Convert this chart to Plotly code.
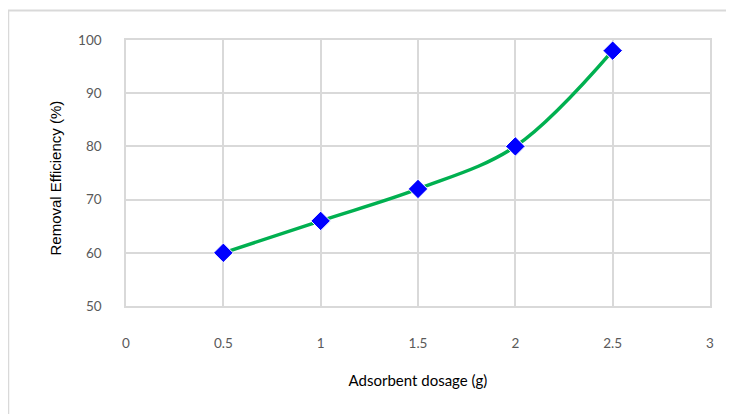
import plotly.graph_objects as go

dosage = [0.5, 1, 1.5, 2, 2.5]
efficiency = [60, 66, 72, 80, 98]
x_ticks = [0, 0.5, 1, 1.5, 2, 2.5, 3]
x_tick_labels = ["0", "0.5", "1", "1.5", "2", "2.5", "3"]
y_ticks = [50, 60, 70, 80, 90, 100]

OFF = 8  # page body margin
W, H = 734 - OFF, 414 - OFF
L, R, T, B = 126 - OFF, 24, 40 - OFF, 108
pw, ph = W - L - R, H - T - B

def px_x(p):
    return (p - OFF - L) / pw

def px_y(p):
    return (H - B - (p - OFF)) / ph

fig = go.Figure()
fig.add_trace(go.Scatter(
    x=dosage, y=efficiency, mode="lines+markers",
    line=dict(color="#00b050", width=3.5, shape="spline", smoothing=1),
    marker=dict(symbol="diamond", color="#0000ff", size=15,
                line=dict(color="white", width=1)),
    showlegend=False,
))

grid = "#d9d9d9"
font = "Lato, 'Liberation Sans', sans-serif"
fig.update_layout(
    width=W, height=H,
    margin=dict(l=L, r=R, t=T, b=B),
    paper_bgcolor="white", plot_bgcolor="white",
    font=dict(family=font, size=13.5, color="#595959"),
    xaxis=dict(range=[0, 3], tickvals=x_ticks, ticktext=x_tick_labels,
               showgrid=True, gridcolor=grid, gridwidth=1.5,
               zeroline=False, showline=True, linecolor=grid, linewidth=1.5,
               mirror=True, ticks="", ticklabelstandoff=24,
               title=dict(text="Adsorbent dosage (g)", standoff=26,
                          font=dict(size=15, color="black"))),
    yaxis=dict(range=[50, 100], tickvals=y_ticks,
               showgrid=True, gridcolor=grid, gridwidth=1.5,
               zeroline=False, showline=True, linecolor=grid, linewidth=1.5,
               mirror=True, ticks="", ticklabelstandoff=20),
)

fig.add_annotation(
    text="Removal Efficiency (%)", xref="paper", yref="paper",
    x=px_x(55), y=px_y(178.5), xanchor="center", yanchor="middle",
    textangle=-90, showarrow=False,
    font=dict(family="'Liberation Sans', Arial, sans-serif", size=15, color="black"),
)

border = "#d9d9d9"
fig.add_shape(type="line", xref="paper", yref="paper",
              x0=px_x(8), x1=px_x(8), y0=px_y(430), y1=px_y(10.5),
              line=dict(color=border, width=2.5))
fig.add_shape(type="line", xref="paper", yref="paper",
              x0=px_x(8), x1=px_x(760), y0=px_y(10.5), y1=px_y(10.5),
              line=dict(color=border, width=2))

fig.write_html("out.html")
